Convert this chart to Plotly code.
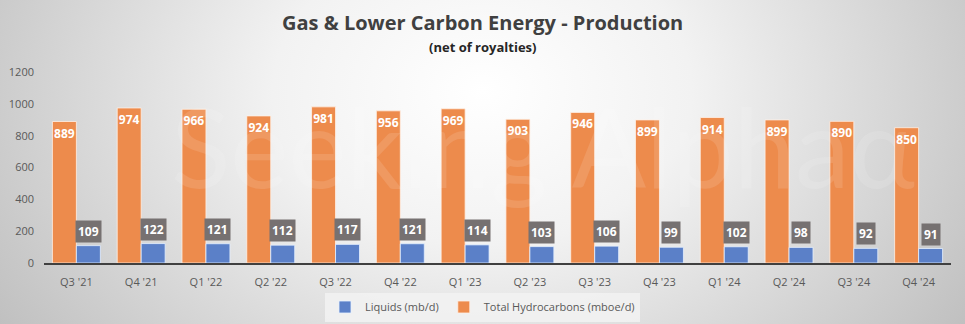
import base64
import plotly.graph_objects as go

quarters = ["Q3 '21", "Q4 '21", "Q1 '22", "Q2 '22", "Q3 '22", "Q4 '22", "Q1 '23",
            "Q2 '23", "Q3 '23", "Q4 '23", "Q1 '24", "Q2 '24", "Q3 '24", "Q4 '24"]
liquids = [109, 122, 121, 112, 117, 121, 114, 103, 106, 99, 102, 98, 92, 91]
total_hc = [889, 974, 966, 924, 981, 956, 969, 903, 946, 899, 914, 899, 890, 850]
y_ticks = [0, 200, 400, 600, 800, 1000, 1200]

W, H = 965, 324
L, R, T, B = 44, 14, 72, 61
pw, ph = W - L - R, H - T - B
cx = (W / 2 - L) / pw  # figure centre in paper coords

FONT = "Open Sans"
ORANGE = "#ED8B4C"
BLUE = "#5B80C8"

svg = f'''<svg xmlns="http://www.w3.org/2000/svg" width="{W}" height="{H}" viewBox="0 0 {W} {H}" preserveAspectRatio="none">
<defs><radialGradient id="g" cx="0.5" cy="0.28" r="0.62" gradientTransform="translate(0.5 0.28) scale(1 2.2) translate(-0.5 -0.28)">
<stop offset="0" stop-color="#ffffff"/><stop offset="0.35" stop-color="#f2f2f2"/><stop offset="1" stop-color="#bdbdbd"/></radialGradient></defs>
<rect width="{W}" height="{H}" fill="url(#g)"/></svg>'''
src = "data:image/svg+xml;base64," + base64.b64encode(svg.encode()).decode()

fig = go.Figure()
fig.add_trace(go.Bar(
    x=quarters, y=total_hc, name="Total Hydrocarbons (mboe/d)",
    marker=dict(color=ORANGE, line=dict(color="rgba(255,240,230,0.8)", width=1)),
    text=[str(v) for v in total_hc], textposition="inside", insidetextanchor="end",
    textangle=0, constraintext="none",
    textfont=dict(family=FONT, size=12, color="white", weight="bold"),
))
fig.add_trace(go.Bar(
    x=quarters, y=liquids, name="Liquids (mb/d)",
    marker=dict(color=BLUE, line=dict(color="rgba(230,240,255,0.8)", width=1)),
))

for q, v in zip(quarters, liquids):
    fig.add_annotation(
        x=q, y=v, xref="x", yref="y", text=f"<b>{v}</b>", showarrow=False,
        xshift=12, yshift=3, yanchor="bottom",
        bgcolor="#767171", borderpad=2,
        font=dict(family=FONT, size=12, color="white"),
    )

fig.add_annotation(
    x=cx, y=1 + (T - 22) / ph, xref="paper", yref="paper", yanchor="middle",
    text="<b>Gas &amp; Lower Carbon Energy - Production</b>", showarrow=False,
    font=dict(family=FONT, size=20, color="#404040"),
)
fig.add_annotation(
    x=cx, y=1 + (T - 47) / ph, xref="paper", yref="paper", yanchor="middle",
    text="<b>(net of royalties)</b>", showarrow=False,
    font=dict(family=FONT, size=13, color="#262626"),
)
fig.add_annotation(
    x=0.55, y=0.62, xref="paper", yref="paper", yanchor="middle",
    text="Seeking Alpha\u03b1", showarrow=False,
    font=dict(family="Lato", size=110, color="rgba(255,255,255,0.12)"),
)

fig.update_layout(
    width=W, height=H,
    margin=dict(l=L, r=R, t=T, b=B, autoexpand=False),
    paper_bgcolor="white", plot_bgcolor="rgba(0,0,0,0)",
    barmode="group", bargap=0.26, bargroupgap=0,
    font=dict(family=FONT, color="#595959", size=11),
    images=[dict(source=src, xref="paper", yref="paper",
                 x=-L / pw, y=1 + T / ph, sizex=W / pw, sizey=H / ph,
                 xanchor="left", yanchor="top", sizing="stretch", layer="below")],
    legend=dict(orientation="h", x=cx, xanchor="center", y=-(307 - (T + ph)) / ph,
                yanchor="middle", bgcolor="rgba(242,242,242,0.85)",
                font=dict(family=FONT, size=11, color="#595959"),
                traceorder="reversed", itemwidth=30),
    xaxis=dict(showgrid=False, showline=True, linecolor="#404040", linewidth=2,
               ticks="", ticklabelstandoff=8,
               tickfont=dict(size=11, color="#595959"), fixedrange=True),
    yaxis=dict(range=[0, 1200], tickvals=y_ticks, showgrid=False, showline=False,
               zeroline=False, ticks="", ticklabelstandoff=9,
               tickfont=dict(size=11, color="#595959"), fixedrange=True),
    showlegend=True,
)

fig.write_html("out.html")
